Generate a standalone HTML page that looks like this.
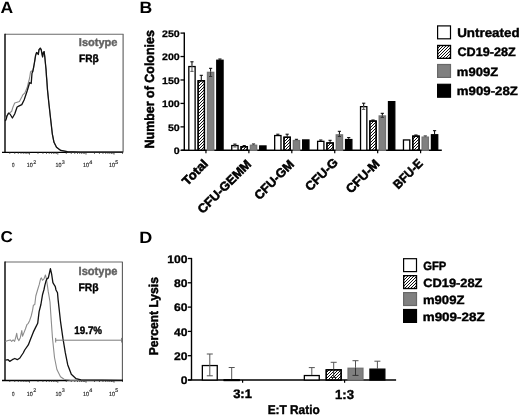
<!DOCTYPE html>
<html><head><meta charset="utf-8"><style>
html,body{margin:0;padding:0;background:#fff;width:520px;height:415px;overflow:hidden}
svg{filter:blur(0.35px);display:block;font-family:"Liberation Sans", sans-serif;text-rendering:geometricPrecision}
</style></head><body>
<svg width="520" height="415" viewBox="0 0 520 415">
<text x="0.5" y="13.05" font-size="16.29" font-weight="bold" fill="#000" text-anchor="start" textLength="12.67" lengthAdjust="spacingAndGlyphs">A</text>
<text x="139.55" y="12.65" font-size="16.44" font-weight="bold" fill="#000" text-anchor="start" textLength="12.76" lengthAdjust="spacingAndGlyphs">B</text>
<text x="0.55" y="242.3" font-size="15.72" font-weight="bold" fill="#000" text-anchor="start" textLength="12.39" lengthAdjust="spacingAndGlyphs">C</text>
<text x="139.25" y="242.65" font-size="16.44" font-weight="bold" fill="#000" text-anchor="start" textLength="13.01" lengthAdjust="spacingAndGlyphs">D</text>
<line x1="5.0" y1="34.3" x2="123.5" y2="34.3" stroke="#6a6a6a" stroke-width="1.1"/>
<line x1="123.1" y1="34.3" x2="123.1" y2="152.4" stroke="#5a5a5a" stroke-width="1.1"/>
<line x1="5.0" y1="33.8" x2="5.0" y2="152.4" stroke="#000" stroke-width="1.4"/>
<line x1="2.0" y1="152.4" x2="123.0" y2="152.4" stroke="#000" stroke-width="1.4"/>
<line x1="9.79" y1="152.4" x2="9.79" y2="153.9" stroke="#333" stroke-width="0.8"/>
<line x1="14.75" y1="152.4" x2="14.75" y2="153.9" stroke="#333" stroke-width="0.8"/>
<line x1="18.28" y1="152.4" x2="18.28" y2="153.9" stroke="#333" stroke-width="0.8"/>
<line x1="21.01" y1="152.4" x2="21.01" y2="153.9" stroke="#333" stroke-width="0.8"/>
<line x1="23.24" y1="152.4" x2="23.24" y2="153.9" stroke="#333" stroke-width="0.8"/>
<line x1="25.13" y1="152.4" x2="25.13" y2="153.9" stroke="#333" stroke-width="0.8"/>
<line x1="26.77" y1="152.4" x2="26.77" y2="153.9" stroke="#333" stroke-width="0.8"/>
<line x1="28.21" y1="152.4" x2="28.21" y2="153.9" stroke="#333" stroke-width="0.8"/>
<line x1="29.5" y1="152.4" x2="29.5" y2="154.6" stroke="#333" stroke-width="0.8"/>
<line x1="37.99" y1="152.4" x2="37.99" y2="153.9" stroke="#333" stroke-width="0.8"/>
<line x1="42.95" y1="152.4" x2="42.95" y2="153.9" stroke="#333" stroke-width="0.8"/>
<line x1="46.48" y1="152.4" x2="46.48" y2="153.9" stroke="#333" stroke-width="0.8"/>
<line x1="49.21" y1="152.4" x2="49.21" y2="153.9" stroke="#333" stroke-width="0.8"/>
<line x1="51.44" y1="152.4" x2="51.44" y2="153.9" stroke="#333" stroke-width="0.8"/>
<line x1="53.33" y1="152.4" x2="53.33" y2="153.9" stroke="#333" stroke-width="0.8"/>
<line x1="54.97" y1="152.4" x2="54.97" y2="153.9" stroke="#333" stroke-width="0.8"/>
<line x1="56.41" y1="152.4" x2="56.41" y2="153.9" stroke="#333" stroke-width="0.8"/>
<line x1="57.8" y1="152.4" x2="57.8" y2="154.6" stroke="#333" stroke-width="0.8"/>
<line x1="66.29" y1="152.4" x2="66.29" y2="153.9" stroke="#333" stroke-width="0.8"/>
<line x1="71.25" y1="152.4" x2="71.25" y2="153.9" stroke="#333" stroke-width="0.8"/>
<line x1="74.78" y1="152.4" x2="74.78" y2="153.9" stroke="#333" stroke-width="0.8"/>
<line x1="77.51" y1="152.4" x2="77.51" y2="153.9" stroke="#333" stroke-width="0.8"/>
<line x1="79.74" y1="152.4" x2="79.74" y2="153.9" stroke="#333" stroke-width="0.8"/>
<line x1="81.63" y1="152.4" x2="81.63" y2="153.9" stroke="#333" stroke-width="0.8"/>
<line x1="83.27" y1="152.4" x2="83.27" y2="153.9" stroke="#333" stroke-width="0.8"/>
<line x1="84.71" y1="152.4" x2="84.71" y2="153.9" stroke="#333" stroke-width="0.8"/>
<line x1="86.0" y1="152.4" x2="86.0" y2="154.6" stroke="#333" stroke-width="0.8"/>
<line x1="94.49" y1="152.4" x2="94.49" y2="153.9" stroke="#333" stroke-width="0.8"/>
<line x1="99.45" y1="152.4" x2="99.45" y2="153.9" stroke="#333" stroke-width="0.8"/>
<line x1="102.98" y1="152.4" x2="102.98" y2="153.9" stroke="#333" stroke-width="0.8"/>
<line x1="105.71" y1="152.4" x2="105.71" y2="153.9" stroke="#333" stroke-width="0.8"/>
<line x1="107.94" y1="152.4" x2="107.94" y2="153.9" stroke="#333" stroke-width="0.8"/>
<line x1="109.83" y1="152.4" x2="109.83" y2="153.9" stroke="#333" stroke-width="0.8"/>
<line x1="111.47" y1="152.4" x2="111.47" y2="153.9" stroke="#333" stroke-width="0.8"/>
<line x1="112.91" y1="152.4" x2="112.91" y2="153.9" stroke="#333" stroke-width="0.8"/>
<line x1="114.0" y1="152.4" x2="114.0" y2="154.6" stroke="#333" stroke-width="0.8"/>
<line x1="122.49" y1="152.4" x2="122.49" y2="153.9" stroke="#333" stroke-width="0.8"/>
<text x="12.1" y="167.4" font-size="6.0" font-weight="normal" fill="#222" text-anchor="start" textLength="2.5" lengthAdjust="spacingAndGlyphs" stroke="#222" stroke-width="0.15">0</text>
<text x="26.8" y="167.4" font-size="6.0" font-weight="normal" fill="#222" text-anchor="start" textLength="6.0" lengthAdjust="spacingAndGlyphs" stroke="#222" stroke-width="0.15">10</text>
<text x="55.6" y="167.4" font-size="6.0" font-weight="normal" fill="#222" text-anchor="start" textLength="6.0" lengthAdjust="spacingAndGlyphs" stroke="#222" stroke-width="0.15">10</text>
<text x="83.0" y="167.4" font-size="6.0" font-weight="normal" fill="#222" text-anchor="start" textLength="6.0" lengthAdjust="spacingAndGlyphs" stroke="#222" stroke-width="0.15">10</text>
<text x="108.9" y="167.4" font-size="6.0" font-weight="normal" fill="#222" text-anchor="start" textLength="6.0" lengthAdjust="spacingAndGlyphs" stroke="#222" stroke-width="0.15">10</text>
<text x="33.2" y="163.8" font-size="5.4" font-weight="normal" fill="#222" text-anchor="start" stroke="#222" stroke-width="0.15">2</text>
<text x="61.7" y="163.8" font-size="5.4" font-weight="normal" fill="#222" text-anchor="start" stroke="#222" stroke-width="0.15">3</text>
<text x="89.3" y="163.8" font-size="5.4" font-weight="normal" fill="#222" text-anchor="start" stroke="#222" stroke-width="0.15">4</text>
<text x="115.2" y="163.8" font-size="5.4" font-weight="normal" fill="#222" text-anchor="start" stroke="#222" stroke-width="0.15">5</text>
<line x1="5.0" y1="262.0" x2="122.8" y2="262.0" stroke="#6a6a6a" stroke-width="1.1"/>
<line x1="122.4" y1="262.0" x2="122.4" y2="380.5" stroke="#5a5a5a" stroke-width="1.1"/>
<line x1="5.0" y1="261.5" x2="5.0" y2="380.5" stroke="#000" stroke-width="1.4"/>
<line x1="2.0" y1="380.5" x2="123.0" y2="380.5" stroke="#000" stroke-width="1.4"/>
<line x1="9.79" y1="380.5" x2="9.79" y2="382.0" stroke="#333" stroke-width="0.8"/>
<line x1="14.75" y1="380.5" x2="14.75" y2="382.0" stroke="#333" stroke-width="0.8"/>
<line x1="18.28" y1="380.5" x2="18.28" y2="382.0" stroke="#333" stroke-width="0.8"/>
<line x1="21.01" y1="380.5" x2="21.01" y2="382.0" stroke="#333" stroke-width="0.8"/>
<line x1="23.24" y1="380.5" x2="23.24" y2="382.0" stroke="#333" stroke-width="0.8"/>
<line x1="25.13" y1="380.5" x2="25.13" y2="382.0" stroke="#333" stroke-width="0.8"/>
<line x1="26.77" y1="380.5" x2="26.77" y2="382.0" stroke="#333" stroke-width="0.8"/>
<line x1="28.21" y1="380.5" x2="28.21" y2="382.0" stroke="#333" stroke-width="0.8"/>
<line x1="29.5" y1="380.5" x2="29.5" y2="382.7" stroke="#333" stroke-width="0.8"/>
<line x1="37.99" y1="380.5" x2="37.99" y2="382.0" stroke="#333" stroke-width="0.8"/>
<line x1="42.95" y1="380.5" x2="42.95" y2="382.0" stroke="#333" stroke-width="0.8"/>
<line x1="46.48" y1="380.5" x2="46.48" y2="382.0" stroke="#333" stroke-width="0.8"/>
<line x1="49.21" y1="380.5" x2="49.21" y2="382.0" stroke="#333" stroke-width="0.8"/>
<line x1="51.44" y1="380.5" x2="51.44" y2="382.0" stroke="#333" stroke-width="0.8"/>
<line x1="53.33" y1="380.5" x2="53.33" y2="382.0" stroke="#333" stroke-width="0.8"/>
<line x1="54.97" y1="380.5" x2="54.97" y2="382.0" stroke="#333" stroke-width="0.8"/>
<line x1="56.41" y1="380.5" x2="56.41" y2="382.0" stroke="#333" stroke-width="0.8"/>
<line x1="57.8" y1="380.5" x2="57.8" y2="382.7" stroke="#333" stroke-width="0.8"/>
<line x1="66.29" y1="380.5" x2="66.29" y2="382.0" stroke="#333" stroke-width="0.8"/>
<line x1="71.25" y1="380.5" x2="71.25" y2="382.0" stroke="#333" stroke-width="0.8"/>
<line x1="74.78" y1="380.5" x2="74.78" y2="382.0" stroke="#333" stroke-width="0.8"/>
<line x1="77.51" y1="380.5" x2="77.51" y2="382.0" stroke="#333" stroke-width="0.8"/>
<line x1="79.74" y1="380.5" x2="79.74" y2="382.0" stroke="#333" stroke-width="0.8"/>
<line x1="81.63" y1="380.5" x2="81.63" y2="382.0" stroke="#333" stroke-width="0.8"/>
<line x1="83.27" y1="380.5" x2="83.27" y2="382.0" stroke="#333" stroke-width="0.8"/>
<line x1="84.71" y1="380.5" x2="84.71" y2="382.0" stroke="#333" stroke-width="0.8"/>
<line x1="86.0" y1="380.5" x2="86.0" y2="382.7" stroke="#333" stroke-width="0.8"/>
<line x1="94.49" y1="380.5" x2="94.49" y2="382.0" stroke="#333" stroke-width="0.8"/>
<line x1="99.45" y1="380.5" x2="99.45" y2="382.0" stroke="#333" stroke-width="0.8"/>
<line x1="102.98" y1="380.5" x2="102.98" y2="382.0" stroke="#333" stroke-width="0.8"/>
<line x1="105.71" y1="380.5" x2="105.71" y2="382.0" stroke="#333" stroke-width="0.8"/>
<line x1="107.94" y1="380.5" x2="107.94" y2="382.0" stroke="#333" stroke-width="0.8"/>
<line x1="109.83" y1="380.5" x2="109.83" y2="382.0" stroke="#333" stroke-width="0.8"/>
<line x1="111.47" y1="380.5" x2="111.47" y2="382.0" stroke="#333" stroke-width="0.8"/>
<line x1="112.91" y1="380.5" x2="112.91" y2="382.0" stroke="#333" stroke-width="0.8"/>
<line x1="114.0" y1="380.5" x2="114.0" y2="382.7" stroke="#333" stroke-width="0.8"/>
<line x1="122.49" y1="380.5" x2="122.49" y2="382.0" stroke="#333" stroke-width="0.8"/>
<text x="12.1" y="395.5" font-size="6.0" font-weight="normal" fill="#222" text-anchor="start" textLength="2.5" lengthAdjust="spacingAndGlyphs" stroke="#222" stroke-width="0.15">0</text>
<text x="26.8" y="395.5" font-size="6.0" font-weight="normal" fill="#222" text-anchor="start" textLength="6.0" lengthAdjust="spacingAndGlyphs" stroke="#222" stroke-width="0.15">10</text>
<text x="55.6" y="395.5" font-size="6.0" font-weight="normal" fill="#222" text-anchor="start" textLength="6.0" lengthAdjust="spacingAndGlyphs" stroke="#222" stroke-width="0.15">10</text>
<text x="83.0" y="395.5" font-size="6.0" font-weight="normal" fill="#222" text-anchor="start" textLength="6.0" lengthAdjust="spacingAndGlyphs" stroke="#222" stroke-width="0.15">10</text>
<text x="108.9" y="395.5" font-size="6.0" font-weight="normal" fill="#222" text-anchor="start" textLength="6.0" lengthAdjust="spacingAndGlyphs" stroke="#222" stroke-width="0.15">10</text>
<text x="33.2" y="391.9" font-size="5.4" font-weight="normal" fill="#222" text-anchor="start" stroke="#222" stroke-width="0.15">2</text>
<text x="61.7" y="391.9" font-size="5.4" font-weight="normal" fill="#222" text-anchor="start" stroke="#222" stroke-width="0.15">3</text>
<text x="89.3" y="391.9" font-size="5.4" font-weight="normal" fill="#222" text-anchor="start" stroke="#222" stroke-width="0.15">4</text>
<text x="115.2" y="391.9" font-size="5.4" font-weight="normal" fill="#222" text-anchor="start" stroke="#222" stroke-width="0.15">5</text>
<text x="78.85" y="46.25" font-size="11.2" font-weight="bold" fill="#626262" text-anchor="start" textLength="38.67" lengthAdjust="spacingAndGlyphs" stroke="#626262" stroke-width="0.4">Isotype</text>
<text x="79.05" y="61.7" font-size="10.79" font-weight="bold" fill="#000" text-anchor="start" textLength="19.73" lengthAdjust="spacingAndGlyphs" stroke="#000" stroke-width="0.4">FR&#946;</text>
<text x="78.55" y="275.2" font-size="11.64" font-weight="bold" fill="#626262" text-anchor="start" textLength="38.9" lengthAdjust="spacingAndGlyphs" stroke="#626262" stroke-width="0.4">Isotype</text>
<text x="78.55" y="290.9" font-size="10.89" font-weight="bold" fill="#000" text-anchor="start" textLength="20.11" lengthAdjust="spacingAndGlyphs" stroke="#000" stroke-width="0.4">FR&#946;</text>
<path d="M5.3,119.0 L6.4,116.5 L8.5,113.0 L10.0,112.5 L11.6,111.5 L13.0,107.0 L14.7,103.0 L17.9,102.0 L19.4,101.5 L21.8,97.0 L22.6,95.2 L24.9,92.9 L27.3,87.0 L29.6,78.0 L30.5,72.0 L31.5,71.0 L32.7,71.3 L33.7,67.0 L34.7,61.2 L35.6,55.4 L36.6,52.5 L37.6,53.5 L38.3,54.5 L39.0,49.6 L40.3,48.2 L41.2,49.6 L41.9,53.5 L42.6,56.9 L43.3,52.5 L44.1,51.6 L44.8,56.9 L45.3,62.2 L46.0,69.0 L46.5,76.6 L46.8,80.0 L47.5,90.0 L48.9,103.5 L50.6,118.7 L52.3,133.8 L54.0,142.3 L56.5,147.3 L60.7,150.4 L67.5,151.7 L80.0,152.1 L123.0,152.1" fill="none" stroke="#8c8c8c" stroke-width="1.1" stroke-linejoin="round"/>
<path d="M5.2,121.0 L5.9,120.0 L7.0,116.0 L8.5,113.2 L10.0,114.0 L12.4,118.0 L14.7,114.0 L17.1,107.0 L18.7,106.2 L21.8,104.6 L24.1,100.0 L27.3,90.5 L29.6,82.7 L31.2,83.5 L32.0,73.3 L32.7,71.8 L33.7,67.0 L34.7,61.2 L35.6,55.4 L36.6,52.5 L37.6,53.5 L38.3,54.5 L39.0,49.6 L40.3,48.2 L41.2,49.6 L41.9,53.5 L42.6,56.9 L43.3,52.5 L44.1,51.6 L44.8,56.9 L45.3,62.2 L46.0,69.0 L46.5,76.6 L46.8,80.0 L47.5,90.0 L48.9,103.5 L50.6,118.7 L52.3,133.8 L54.0,142.3 L56.5,147.3 L60.7,150.4 L67.5,151.7 L80.0,152.1 L123.0,152.1" fill="none" stroke="#111" stroke-width="1.3" stroke-linejoin="round"/>
<path d="M5.5,341.5 L5.9,341.3 L8.1,340.6 L10.2,339.9 L11.7,341.3 L13.1,339.9 L14.6,341.3 L16.0,336.3 L16.7,333.4 L17.5,338.4 L18.9,340.6 L20.3,337.7 L21.8,330.5 L22.5,336.3 L24.0,332.6 L25.4,329.0 L26.9,324.7 L28.3,323.3 L29.7,320.4 L31.2,316.0 L32.6,310.2 L33.4,305.2 L34.8,304.5 L35.8,296.0 L37.7,289.5 L39.2,284.7 L40.6,278.9 L41.4,277.9 L42.5,280.3 L44.0,278.9 L45.4,275.0 L46.4,278.9 L47.2,284.2 L48.3,291.9 L49.3,297.7 L50.0,302.0 L50.8,314.1 L52.5,338.2 L54.5,357.5 L56.9,369.5 L60.5,376.7 L64.1,379.2 L70.0,380.3 L123.0,380.5" fill="none" stroke="#8c8c8c" stroke-width="1.1" stroke-linejoin="round"/>
<path d="M5.5,360.2 L8.1,359.7 L9.7,361.4 L12.3,359.7 L14.8,358.5 L17.3,359.7 L19.9,358.0 L21.5,355.5 L23.2,353.0 L24.7,350.0 L28.3,344.9 L30.5,339.2 L33.4,331.9 L35.5,327.6 L37.7,323.3 L39.1,311.7 L40.9,304.5 L42.5,294.8 L44.0,289.5 L44.9,285.1 L45.9,281.3 L46.9,278.9 L48.3,277.9 L49.3,273.6 L50.4,268.7 L51.7,274.5 L52.9,282.7 L54.1,284.7 L55.3,286.6 L56.0,290.0 L57.5,292.8 L58.1,299.6 L60.5,321.3 L62.9,338.2 L65.3,352.7 L67.7,364.7 L71.3,374.3 L76.1,378.7 L81.0,379.8 L123.0,380.3" fill="none" stroke="#111" stroke-width="1.3" stroke-linejoin="round"/>
<line x1="55.7" y1="340.2" x2="121.6" y2="340.2" stroke="#7a7a7a" stroke-width="1"/>
<line x1="55.7" y1="337.9" x2="55.7" y2="342.5" stroke="#7a7a7a" stroke-width="1"/>
<line x1="121.6" y1="337.9" x2="121.6" y2="342.5" stroke="#7a7a7a" stroke-width="1"/>
<text x="74.3" y="334.25" font-size="10.91" font-weight="bold" fill="#000" text-anchor="start" textLength="27.79" lengthAdjust="spacingAndGlyphs" stroke="#000" stroke-width="0.4">19.7%</text>
<line x1="184.3" y1="32.6" x2="184.3" y2="150.3" stroke="#000" stroke-width="1.4"/>
<line x1="181.3" y1="150.3" x2="441.8" y2="150.3" stroke="#000" stroke-width="1.4"/>
<line x1="180.5" y1="150.3" x2="184.3" y2="150.3" stroke="#000" stroke-width="1.3"/>
<text x="173.86" y="153.95" font-size="9.43" font-weight="bold" fill="#000" text-anchor="start" textLength="5.91" lengthAdjust="spacingAndGlyphs" stroke="#000" stroke-width="0.25">0</text>
<line x1="180.5" y1="126.86" x2="184.3" y2="126.86" stroke="#000" stroke-width="1.3"/>
<text x="167.96" y="130.51" font-size="9.43" font-weight="bold" fill="#000" text-anchor="start" textLength="11.81" lengthAdjust="spacingAndGlyphs" stroke="#000" stroke-width="0.25">50</text>
<line x1="180.5" y1="103.42" x2="184.3" y2="103.42" stroke="#000" stroke-width="1.3"/>
<text x="162.05" y="107.07" font-size="9.43" font-weight="bold" fill="#000" text-anchor="start" textLength="17.72" lengthAdjust="spacingAndGlyphs" stroke="#000" stroke-width="0.25">100</text>
<line x1="180.5" y1="79.98" x2="184.3" y2="79.98" stroke="#000" stroke-width="1.3"/>
<text x="162.05" y="83.63" font-size="9.43" font-weight="bold" fill="#000" text-anchor="start" textLength="17.72" lengthAdjust="spacingAndGlyphs" stroke="#000" stroke-width="0.25">150</text>
<line x1="180.5" y1="56.54" x2="184.3" y2="56.54" stroke="#000" stroke-width="1.3"/>
<text x="162.05" y="60.19" font-size="9.43" font-weight="bold" fill="#000" text-anchor="start" textLength="17.72" lengthAdjust="spacingAndGlyphs" stroke="#000" stroke-width="0.25">200</text>
<line x1="180.5" y1="33.1" x2="184.3" y2="33.1" stroke="#000" stroke-width="1.3"/>
<text x="162.05" y="36.75" font-size="9.43" font-weight="bold" fill="#000" text-anchor="start" textLength="17.72" lengthAdjust="spacingAndGlyphs" stroke="#000" stroke-width="0.25">250</text>
<text transform="translate(144.6,147.7) rotate(-90)" x="-0.75" y="9.1" font-size="13.24" font-weight="bold" textLength="118.34" lengthAdjust="spacingAndGlyphs" stroke="#000" stroke-width="0.5">Number of Colonies</text>
<line x1="205.95" y1="150.3" x2="205.95" y2="153.3" stroke="#000" stroke-width="1.2"/>
<line x1="191.97" y1="61.8" x2="191.97" y2="65.9" stroke="#000" stroke-width="1"/>
<line x1="190.37" y1="61.8" x2="193.57" y2="61.8" stroke="#000" stroke-width="1"/>
<rect x="188.82" y="66.55" width="6.3" height="83.75" fill="#fff" stroke="#000" stroke-width="1.3"/>
<line x1="191.97" y1="65.9" x2="191.97" y2="71.4" stroke="#555" stroke-width="1"/>
<line x1="190.37" y1="71.4" x2="193.57" y2="71.4" stroke="#555" stroke-width="1"/>
<line x1="201.29" y1="75.3" x2="201.29" y2="80.1" stroke="#000" stroke-width="1"/>
<line x1="199.69" y1="75.3" x2="202.89" y2="75.3" stroke="#000" stroke-width="1"/>
<rect x="198.14" y="80.75" width="6.3" height="69.55" fill="#fff" stroke="#000" stroke-width="1.3"/>
<path d="M198.25,80.75L198.14,80.86M201.25,80.75L198.14,83.86M204.25,80.75L198.14,86.86M204.44,83.56L198.14,89.86M204.44,86.56L198.14,92.86M204.44,89.56L198.14,95.86M204.44,92.56L198.14,98.86M204.44,95.56L198.14,101.86M204.44,98.56L198.14,104.86M204.44,101.56L198.14,107.86M204.44,104.56L198.14,110.86M204.44,107.56L198.14,113.86M204.44,110.56L198.14,116.86M204.44,113.56L198.14,119.86M204.44,116.56L198.14,122.86M204.44,119.56L198.14,125.86M204.44,122.56L198.14,128.86M204.44,125.56L198.14,131.86M204.44,128.56L198.14,134.86M204.44,131.56L198.14,137.86M204.44,134.56L198.14,140.86M204.44,137.56L198.14,143.86M204.44,140.56L198.14,146.86M204.44,143.56L198.14,149.86M204.44,146.56L200.7,150.3M204.44,149.56L203.7,150.3" stroke="#000" stroke-width="0.95" fill="none"/>
<rect x="198.14" y="80.75" width="6.3" height="69.55" fill="none" stroke="#000" stroke-width="1.3"/>
<line x1="210.61" y1="68.3" x2="210.61" y2="71.7" stroke="#000" stroke-width="1"/>
<line x1="209.01" y1="68.3" x2="212.21" y2="68.3" stroke="#000" stroke-width="1"/>
<rect x="207.46" y="72.35" width="6.3" height="77.95" fill="#808080" stroke="#737373" stroke-width="1.3"/>
<line x1="210.61" y1="71.7" x2="210.61" y2="76.5" stroke="#333" stroke-width="1"/>
<line x1="209.01" y1="76.5" x2="212.21" y2="76.5" stroke="#333" stroke-width="1"/>
<line x1="219.93" y1="59.0" x2="219.93" y2="59.6" stroke="#000" stroke-width="1"/>
<line x1="218.33" y1="59.0" x2="221.53" y2="59.0" stroke="#000" stroke-width="1"/>
<rect x="216.78" y="60.25" width="6.3" height="90.05" fill="#000" stroke="#000" stroke-width="1.3"/>
<line x1="248.88" y1="150.3" x2="248.88" y2="153.3" stroke="#000" stroke-width="1.2"/>
<line x1="234.9" y1="144.1" x2="234.9" y2="144.9" stroke="#000" stroke-width="1"/>
<line x1="233.3" y1="144.1" x2="236.5" y2="144.1" stroke="#000" stroke-width="1"/>
<rect x="231.75" y="145.55" width="6.3" height="4.75" fill="#fff" stroke="#000" stroke-width="1.3"/>
<line x1="234.9" y1="144.9" x2="234.9" y2="147.0" stroke="#555" stroke-width="1"/>
<line x1="233.3" y1="147.0" x2="236.5" y2="147.0" stroke="#555" stroke-width="1"/>
<line x1="244.22" y1="145.6" x2="244.22" y2="146.0" stroke="#000" stroke-width="1"/>
<line x1="242.62" y1="145.6" x2="245.82" y2="145.6" stroke="#000" stroke-width="1"/>
<rect x="241.07" y="146.65" width="6.3" height="3.65" fill="#fff" stroke="#000" stroke-width="1.3"/>
<path d="M243.35,146.65L241.07,148.93M246.35,146.65L242.7,150.3M247.37,148.63L245.7,150.3" stroke="#000" stroke-width="0.95" fill="none"/>
<rect x="241.07" y="146.65" width="6.3" height="3.65" fill="none" stroke="#000" stroke-width="1.3"/>
<line x1="253.54" y1="144.0" x2="253.54" y2="144.6" stroke="#000" stroke-width="1"/>
<line x1="251.94" y1="144.0" x2="255.14" y2="144.0" stroke="#000" stroke-width="1"/>
<rect x="250.39" y="145.25" width="6.3" height="5.05" fill="#808080" stroke="#737373" stroke-width="1.3"/>
<rect x="259.71" y="145.95" width="6.3" height="4.35" fill="#000" stroke="#000" stroke-width="1.3"/>
<line x1="291.81" y1="150.3" x2="291.81" y2="153.3" stroke="#000" stroke-width="1.2"/>
<line x1="277.83" y1="134.2" x2="277.83" y2="134.9" stroke="#000" stroke-width="1"/>
<line x1="276.23" y1="134.2" x2="279.43" y2="134.2" stroke="#000" stroke-width="1"/>
<rect x="274.68" y="135.55" width="6.3" height="14.75" fill="#fff" stroke="#000" stroke-width="1.3"/>
<line x1="287.15" y1="134.2" x2="287.15" y2="136.6" stroke="#000" stroke-width="1"/>
<line x1="285.55" y1="134.2" x2="288.75" y2="134.2" stroke="#000" stroke-width="1"/>
<rect x="284.0" y="137.25" width="6.3" height="13.05" fill="#fff" stroke="#000" stroke-width="1.3"/>
<path d="M285.75,137.25L284.0,139.0M288.75,137.25L284.0,142.0M290.3,138.7L284.0,145.0M290.3,141.7L284.0,148.0M290.3,144.7L284.7,150.3M290.3,147.7L287.7,150.3" stroke="#000" stroke-width="0.95" fill="none"/>
<rect x="284.0" y="137.25" width="6.3" height="13.05" fill="none" stroke="#000" stroke-width="1.3"/>
<line x1="296.47" y1="139.3" x2="296.47" y2="139.9" stroke="#000" stroke-width="1"/>
<line x1="294.87" y1="139.3" x2="298.07" y2="139.3" stroke="#000" stroke-width="1"/>
<rect x="293.32" y="140.55" width="6.3" height="9.75" fill="#808080" stroke="#737373" stroke-width="1.3"/>
<rect x="302.64" y="139.95" width="6.3" height="10.35" fill="#000" stroke="#000" stroke-width="1.3"/>
<line x1="334.74" y1="150.3" x2="334.74" y2="153.3" stroke="#000" stroke-width="1.2"/>
<line x1="320.76" y1="140.0" x2="320.76" y2="140.7" stroke="#000" stroke-width="1"/>
<line x1="319.16" y1="140.0" x2="322.36" y2="140.0" stroke="#000" stroke-width="1"/>
<rect x="317.61" y="141.35" width="6.3" height="8.95" fill="#fff" stroke="#000" stroke-width="1.3"/>
<line x1="330.08" y1="140.3" x2="330.08" y2="142.3" stroke="#000" stroke-width="1"/>
<line x1="328.48" y1="140.3" x2="331.68" y2="140.3" stroke="#000" stroke-width="1"/>
<rect x="326.93" y="142.95" width="6.3" height="7.35" fill="#fff" stroke="#000" stroke-width="1.3"/>
<path d="M328.05,142.95L326.93,144.07M331.05,142.95L326.93,147.07M333.23,143.77L326.93,150.07M333.23,146.77L329.7,150.3M333.23,149.77L332.7,150.3" stroke="#000" stroke-width="0.95" fill="none"/>
<rect x="326.93" y="142.95" width="6.3" height="7.35" fill="none" stroke="#000" stroke-width="1.3"/>
<line x1="339.4" y1="131.3" x2="339.4" y2="134.2" stroke="#000" stroke-width="1"/>
<line x1="337.8" y1="131.3" x2="341.0" y2="131.3" stroke="#000" stroke-width="1"/>
<rect x="336.25" y="134.85" width="6.3" height="15.45" fill="#808080" stroke="#737373" stroke-width="1.3"/>
<line x1="339.4" y1="134.2" x2="339.4" y2="136.5" stroke="#333" stroke-width="1"/>
<line x1="337.8" y1="136.5" x2="341.0" y2="136.5" stroke="#333" stroke-width="1"/>
<line x1="348.72" y1="137.6" x2="348.72" y2="138.9" stroke="#000" stroke-width="1"/>
<line x1="347.12" y1="137.6" x2="350.32" y2="137.6" stroke="#000" stroke-width="1"/>
<rect x="345.57" y="139.55" width="6.3" height="10.75" fill="#000" stroke="#000" stroke-width="1.3"/>
<line x1="377.67" y1="150.3" x2="377.67" y2="153.3" stroke="#000" stroke-width="1.2"/>
<line x1="363.69" y1="103.2" x2="363.69" y2="106.0" stroke="#000" stroke-width="1"/>
<line x1="362.09" y1="103.2" x2="365.29" y2="103.2" stroke="#000" stroke-width="1"/>
<rect x="360.54" y="106.65" width="6.3" height="43.65" fill="#fff" stroke="#000" stroke-width="1.3"/>
<line x1="363.69" y1="106.0" x2="363.69" y2="109.4" stroke="#555" stroke-width="1"/>
<line x1="362.09" y1="109.4" x2="365.29" y2="109.4" stroke="#555" stroke-width="1"/>
<line x1="373.01" y1="120.0" x2="373.01" y2="120.4" stroke="#000" stroke-width="1"/>
<line x1="371.41" y1="120.0" x2="374.61" y2="120.0" stroke="#000" stroke-width="1"/>
<rect x="369.86" y="121.05" width="6.3" height="29.25" fill="#fff" stroke="#000" stroke-width="1.3"/>
<path d="M370.95,121.05L369.86,122.14M373.95,121.05L369.86,125.14M376.16,121.84L369.86,128.14M376.16,124.84L369.86,131.14M376.16,127.84L369.86,134.14M376.16,130.84L369.86,137.14M376.16,133.84L369.86,140.14M376.16,136.84L369.86,143.14M376.16,139.84L369.86,146.14M376.16,142.84L369.86,149.14M376.16,145.84L371.7,150.3M376.16,148.84L374.7,150.3" stroke="#000" stroke-width="0.95" fill="none"/>
<rect x="369.86" y="121.05" width="6.3" height="29.25" fill="none" stroke="#000" stroke-width="1.3"/>
<line x1="382.33" y1="113.3" x2="382.33" y2="115.3" stroke="#000" stroke-width="1"/>
<line x1="380.73" y1="113.3" x2="383.93" y2="113.3" stroke="#000" stroke-width="1"/>
<rect x="379.18" y="115.95" width="6.3" height="34.35" fill="#808080" stroke="#737373" stroke-width="1.3"/>
<line x1="382.33" y1="115.3" x2="382.33" y2="117.4" stroke="#333" stroke-width="1"/>
<line x1="380.73" y1="117.4" x2="383.93" y2="117.4" stroke="#333" stroke-width="1"/>
<rect x="388.5" y="101.65" width="6.3" height="48.65" fill="#000" stroke="#000" stroke-width="1.3"/>
<line x1="420.6" y1="150.3" x2="420.6" y2="153.3" stroke="#000" stroke-width="1.2"/>
<rect x="403.47" y="139.95" width="6.3" height="10.35" fill="#fff" stroke="#000" stroke-width="1.3"/>
<line x1="415.94" y1="135.0" x2="415.94" y2="135.5" stroke="#000" stroke-width="1"/>
<line x1="414.34" y1="135.0" x2="417.54" y2="135.0" stroke="#000" stroke-width="1"/>
<rect x="412.79" y="136.15" width="6.3" height="14.15" fill="#fff" stroke="#000" stroke-width="1.3"/>
<path d="M412.85,136.15L412.79,136.21M415.85,136.15L412.79,139.21M418.85,136.15L412.79,142.21M419.09,138.91L412.79,145.21M419.09,141.91L412.79,148.21M419.09,144.91L413.7,150.3M419.09,147.91L416.7,150.3" stroke="#000" stroke-width="0.95" fill="none"/>
<rect x="412.79" y="136.15" width="6.3" height="14.15" fill="none" stroke="#000" stroke-width="1.3"/>
<line x1="425.26" y1="136.0" x2="425.26" y2="136.5" stroke="#000" stroke-width="1"/>
<line x1="423.66" y1="136.0" x2="426.86" y2="136.0" stroke="#000" stroke-width="1"/>
<rect x="422.11" y="137.15" width="6.3" height="13.15" fill="#808080" stroke="#737373" stroke-width="1.3"/>
<line x1="434.58" y1="130.7" x2="434.58" y2="134.1" stroke="#000" stroke-width="1"/>
<line x1="432.98" y1="130.7" x2="436.18" y2="130.7" stroke="#000" stroke-width="1"/>
<rect x="431.43" y="134.75" width="6.3" height="15.55" fill="#000" stroke="#000" stroke-width="1.3"/>
<text transform="translate(208.77,164.6) rotate(-45)" font-size="12.6" font-weight="bold" text-anchor="end" textLength="30.53" lengthAdjust="spacingAndGlyphs" stroke="#000" stroke-width="0.55">Total</text>
<text transform="translate(252.07,164.93) rotate(-45)" font-size="12.6" font-weight="bold" text-anchor="end" textLength="69.62" lengthAdjust="spacingAndGlyphs" stroke="#000" stroke-width="0.55">CFU-GEMM</text>
<text transform="translate(294.77,165.12) rotate(-45)" font-size="12.6" font-weight="bold" text-anchor="end" textLength="49.88" lengthAdjust="spacingAndGlyphs" stroke="#000" stroke-width="0.55">CFU-GM</text>
<text transform="translate(338.62,163.38) rotate(-45)" font-size="12.6" font-weight="bold" text-anchor="end" textLength="40.23" lengthAdjust="spacingAndGlyphs" stroke="#000" stroke-width="0.55">CFU-G</text>
<text transform="translate(380.4,164.55) rotate(-45)" font-size="12.6" font-weight="bold" text-anchor="end" textLength="41.64" lengthAdjust="spacingAndGlyphs" stroke="#000" stroke-width="0.55">CFU-M</text>
<text transform="translate(423.52,164.32) rotate(-45)" font-size="12.6" font-weight="bold" text-anchor="end" textLength="35.83" lengthAdjust="spacingAndGlyphs" stroke="#000" stroke-width="0.55">BFU-E</text>
<rect x="437.6" y="25.9" width="12.9" height="12.9" fill="#fff" stroke="#000" stroke-width="1.2"/>
<text x="457.15" y="37.05" font-size="12.57" font-weight="bold" fill="#000" text-anchor="start" textLength="62.44" lengthAdjust="spacingAndGlyphs" stroke="#000" stroke-width="0.4">Untreated</text>
<rect x="437.6" y="45.5" width="12.9" height="12.9" fill="#fff" stroke="#000" stroke-width="1.2"/>
<path d="M440.5,45.5L437.6,48.4M443.5,45.5L437.6,51.4M446.5,45.5L437.6,54.4M449.5,45.5L437.6,57.4M450.5,47.5L439.6,58.4M450.5,50.5L442.6,58.4M450.5,53.5L445.6,58.4M450.5,56.5L448.6,58.4" stroke="#000" stroke-width="0.95" fill="none"/>
<rect x="437.6" y="45.5" width="12.9" height="12.9" fill="none" stroke="#000" stroke-width="1.2"/>
<text x="457.4" y="55.9" font-size="12.21" font-weight="bold" fill="#000" text-anchor="start" textLength="58.3" lengthAdjust="spacingAndGlyphs" stroke="#000" stroke-width="0.4">CD19-28Z</text>
<rect x="437.6" y="64.5" width="12.9" height="12.9" fill="#808080" stroke="#686868" stroke-width="1.2"/>
<text x="456.85" y="75.5" font-size="12.07" font-weight="bold" fill="#000" text-anchor="start" textLength="41.28" lengthAdjust="spacingAndGlyphs" stroke="#000" stroke-width="0.4">m909Z</text>
<rect x="437.6" y="84.3" width="12.9" height="12.9" fill="#000" stroke="#000" stroke-width="1.2"/>
<text x="456.85" y="95.1" font-size="12.07" font-weight="bold" fill="#000" text-anchor="start" textLength="61.01" lengthAdjust="spacingAndGlyphs" stroke="#000" stroke-width="0.4">m909-28Z</text>
<line x1="191.5" y1="257.9" x2="191.5" y2="380.0" stroke="#000" stroke-width="1.4"/>
<line x1="188.0" y1="380.0" x2="396.1" y2="380.0" stroke="#000" stroke-width="1.4"/>
<line x1="187.8" y1="380.0" x2="191.5" y2="380.0" stroke="#000" stroke-width="1.3"/>
<text x="180.7" y="384.1" font-size="10.99" font-weight="bold" fill="#000" text-anchor="start" textLength="6.73" lengthAdjust="spacingAndGlyphs" stroke="#000" stroke-width="0.3">0</text>
<line x1="187.8" y1="355.7" x2="191.5" y2="355.7" stroke="#000" stroke-width="1.3"/>
<text x="173.98" y="359.8" font-size="10.99" font-weight="bold" fill="#000" text-anchor="start" textLength="13.45" lengthAdjust="spacingAndGlyphs" stroke="#000" stroke-width="0.3">20</text>
<line x1="187.8" y1="331.4" x2="191.5" y2="331.4" stroke="#000" stroke-width="1.3"/>
<text x="173.98" y="335.5" font-size="10.99" font-weight="bold" fill="#000" text-anchor="start" textLength="13.45" lengthAdjust="spacingAndGlyphs" stroke="#000" stroke-width="0.3">40</text>
<line x1="187.8" y1="307.1" x2="191.5" y2="307.1" stroke="#000" stroke-width="1.3"/>
<text x="173.98" y="311.2" font-size="10.99" font-weight="bold" fill="#000" text-anchor="start" textLength="13.45" lengthAdjust="spacingAndGlyphs" stroke="#000" stroke-width="0.3">60</text>
<line x1="187.8" y1="282.8" x2="191.5" y2="282.8" stroke="#000" stroke-width="1.3"/>
<text x="173.98" y="286.9" font-size="10.99" font-weight="bold" fill="#000" text-anchor="start" textLength="13.45" lengthAdjust="spacingAndGlyphs" stroke="#000" stroke-width="0.3">80</text>
<line x1="187.8" y1="258.5" x2="191.5" y2="258.5" stroke="#000" stroke-width="1.3"/>
<text x="167.25" y="262.6" font-size="10.99" font-weight="bold" fill="#000" text-anchor="start" textLength="20.18" lengthAdjust="spacingAndGlyphs" stroke="#000" stroke-width="0.3">100</text>
<text transform="translate(148.8,354.5) rotate(-90)" x="-0.75" y="8.8" font-size="12.8" font-weight="bold" textLength="78.1" lengthAdjust="spacingAndGlyphs" stroke="#000" stroke-width="0.5">Percent Lysis</text>
<line x1="242.6" y1="380.0" x2="242.6" y2="382.8" stroke="#000" stroke-width="1.2"/>
<line x1="209.8" y1="354.0" x2="209.8" y2="364.9" stroke="#555" stroke-width="1"/>
<line x1="206.8" y1="354.0" x2="212.8" y2="354.0" stroke="#555" stroke-width="1"/>
<rect x="202.35" y="365.55" width="14.9" height="14.45" fill="#fff" stroke="#000" stroke-width="1.3"/>
<line x1="209.8" y1="364.9" x2="209.8" y2="375.8" stroke="#555" stroke-width="1"/>
<line x1="206.8" y1="375.8" x2="212.8" y2="375.8" stroke="#555" stroke-width="1"/>
<line x1="231.7" y1="367.5" x2="231.7" y2="379.3" stroke="#555" stroke-width="1"/>
<line x1="228.7" y1="367.5" x2="234.7" y2="367.5" stroke="#555" stroke-width="1"/>
<rect x="224.25" y="379.95" width="14.9" height="0.5" fill="#fff" stroke="#000" stroke-width="1.3"/>
<path d="M226.05,379.95L225.55,380.45M229.05,379.95L228.55,380.45M232.05,379.95L231.55,380.45M235.05,379.95L234.55,380.45M238.05,379.95L237.55,380.45" stroke="#000" stroke-width="0.95" fill="none"/>
<rect x="224.25" y="379.95" width="14.9" height="0.5" fill="none" stroke="#000" stroke-width="1.3"/>
<line x1="344.6" y1="380.0" x2="344.6" y2="382.8" stroke="#000" stroke-width="1.2"/>
<line x1="311.8" y1="367.6" x2="311.8" y2="374.9" stroke="#555" stroke-width="1"/>
<line x1="308.8" y1="367.6" x2="314.8" y2="367.6" stroke="#555" stroke-width="1"/>
<rect x="304.35" y="375.55" width="14.9" height="4.45" fill="#fff" stroke="#000" stroke-width="1.3"/>
<line x1="333.7" y1="362.3" x2="333.7" y2="369.2" stroke="#555" stroke-width="1"/>
<line x1="330.7" y1="362.3" x2="336.7" y2="362.3" stroke="#555" stroke-width="1"/>
<rect x="326.25" y="369.85" width="14.9" height="10.15" fill="#fff" stroke="#000" stroke-width="1.3"/>
<path d="M329.15,369.85L326.25,372.75M332.15,369.85L326.25,375.75M335.15,369.85L326.25,378.75M338.15,369.85L328.0,380.0M341.15,369.85L331.0,380.0M341.15,372.85L334.0,380.0M341.15,375.85L337.0,380.0M341.15,378.85L340.0,380.0" stroke="#000" stroke-width="0.95" fill="none"/>
<rect x="326.25" y="369.85" width="14.9" height="10.15" fill="none" stroke="#000" stroke-width="1.3"/>
<line x1="333.7" y1="369.2" x2="333.7" y2="377.5" stroke="#333" stroke-width="1"/>
<line x1="330.7" y1="377.5" x2="336.7" y2="377.5" stroke="#333" stroke-width="1"/>
<line x1="355.5" y1="360.7" x2="355.5" y2="367.6" stroke="#555" stroke-width="1"/>
<line x1="352.5" y1="360.7" x2="358.5" y2="360.7" stroke="#555" stroke-width="1"/>
<rect x="348.05" y="368.25" width="14.9" height="11.75" fill="#808080" stroke="#737373" stroke-width="1.3"/>
<line x1="355.5" y1="367.6" x2="355.5" y2="375.4" stroke="#333" stroke-width="1"/>
<line x1="352.5" y1="375.4" x2="358.5" y2="375.4" stroke="#333" stroke-width="1"/>
<line x1="377.4" y1="361.2" x2="377.4" y2="368.5" stroke="#555" stroke-width="1"/>
<line x1="374.4" y1="361.2" x2="380.4" y2="361.2" stroke="#555" stroke-width="1"/>
<rect x="369.95" y="369.15" width="14.9" height="10.85" fill="#000" stroke="#000" stroke-width="1.3"/>
<text x="233.15" y="398.35" font-size="12.35" font-weight="bold" fill="#000" text-anchor="start" textLength="18.74" lengthAdjust="spacingAndGlyphs" stroke="#000" stroke-width="0.4">3:1</text>
<text x="335.05" y="398.85" font-size="13.09" font-weight="bold" fill="#000" text-anchor="start" textLength="18.96" lengthAdjust="spacingAndGlyphs" stroke="#000" stroke-width="0.4">1:3</text>
<text x="267.65" y="414.35" font-size="12.65" font-weight="bold" fill="#000" text-anchor="start" textLength="52.08" lengthAdjust="spacingAndGlyphs" stroke="#000" stroke-width="0.4">E:T Ratio</text>
<rect x="403.6" y="258.7" width="12.9" height="12.9" fill="#fff" stroke="#000" stroke-width="1.2"/>
<text x="423.2" y="269.7" font-size="12.07" font-weight="bold" fill="#000" text-anchor="start" textLength="23.15" lengthAdjust="spacingAndGlyphs" stroke="#000" stroke-width="0.4">GFP</text>
<rect x="403.6" y="275.6" width="12.9" height="12.9" fill="#fff" stroke="#000" stroke-width="1.2"/>
<path d="M405.4,275.6L403.6,277.4M408.4,275.6L403.6,280.4M411.4,275.6L403.6,283.4M414.4,275.6L403.6,286.4M416.5,276.5L404.5,288.5M416.5,279.5L407.5,288.5M416.5,282.5L410.5,288.5M416.5,285.5L413.5,288.5" stroke="#000" stroke-width="0.95" fill="none"/>
<rect x="403.6" y="275.6" width="12.9" height="12.9" fill="none" stroke="#000" stroke-width="1.2"/>
<text x="423.2" y="286.9" font-size="12.07" font-weight="bold" fill="#000" text-anchor="start" textLength="59.26" lengthAdjust="spacingAndGlyphs" stroke="#000" stroke-width="0.4">CD19-28Z</text>
<rect x="403.6" y="292.6" width="12.9" height="12.9" fill="#808080" stroke="#686868" stroke-width="1.2"/>
<text x="422.95" y="303.8" font-size="12.07" font-weight="bold" fill="#000" text-anchor="start" textLength="41.48" lengthAdjust="spacingAndGlyphs" stroke="#000" stroke-width="0.4">m909Z</text>
<rect x="403.6" y="309.5" width="12.9" height="12.9" fill="#000" stroke="#000" stroke-width="1.2"/>
<text x="422.7" y="320.7" font-size="12.07" font-weight="bold" fill="#000" text-anchor="start" textLength="61.96" lengthAdjust="spacingAndGlyphs" stroke="#000" stroke-width="0.4">m909-28Z</text>
</svg>
</body></html>
